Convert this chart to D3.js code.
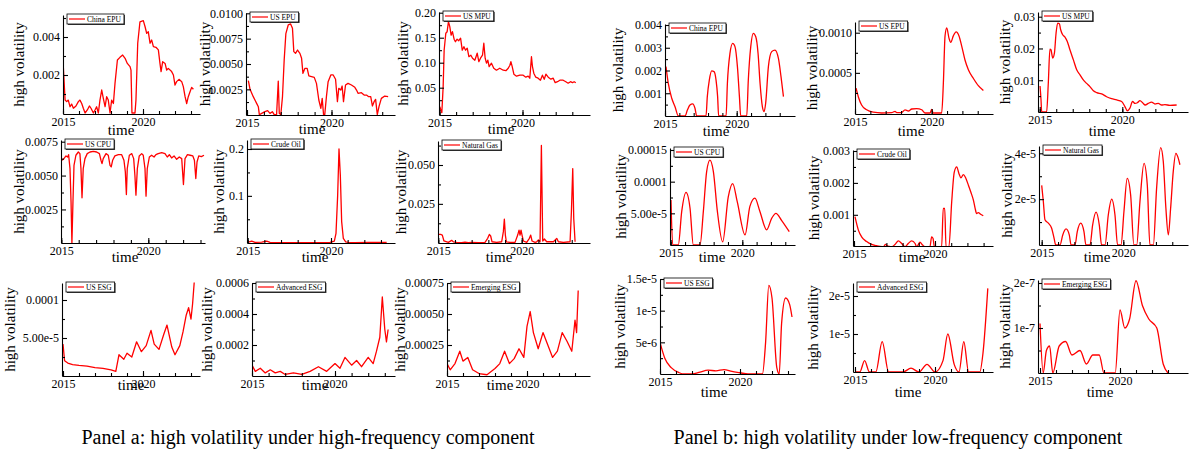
<!DOCTYPE html>
<html lang="en">
<head>
  <meta charset="UTF-8">
  <title>High volatility panels</title>
  <style>
    body { margin: 0; background: #fff; }
    svg text { font-family: "Liberation Serif", "Times New Roman", serif; fill: #000; }
    .tick text { font-size: 12px; }
    .axis path, .axis line { stroke: #000; stroke-width: 1.1px; }
  </style>
</head>
<body>
  <div id="chart"></div>
  <script src="https://d3js.org/d3.v7.min.js"></script>
  <script>
    // ---- data: [year, value] ----
    const chinaEpuHigh = [[2015.02,0.00244],[2015.13,0.00068],[2015.23,0.0006],[2015.33,0.00068],[2015.44,0.00033],[2015.54,0.00047],[2015.65,0.00025],[2015.81,0.00037],[2015.96,0.0006],[2016.06,0.00068],[2016.17,0.0005],[2016.27,0.00025],[2016.38,0],[2016.52,0.00016],[2016.65,0.00037],[2016.75,0.00025],[2016.9,0],[2017.0,0.00016],[2017.1,0.00033],[2017.21,0],[2017.31,0.00068],[2017.42,0.00121],[2017.52,0.00077],[2017.63,0.00033],[2017.73,0.00086],[2017.83,0.00068],[2017.94,0],[2018.04,0.00068],[2018.15,0.0005],[2018.25,0.00156],[2018.4,0.00279],[2018.56,0.00293],[2018.73,0.00305],[2018.88,0.00288],[2019.02,0.00261],[2019.19,0.00244],[2019.25,0.00226],[2019.31,0],[2019.5,0],[2019.56,0.00068],[2019.67,0.00367],[2019.81,0.0048],[2020.02,0.00486],[2020.13,0.00454],[2020.23,0.00419],[2020.33,0.00428],[2020.44,0.00367],[2020.54,0.00384],[2020.65,0.00349],[2020.81,0.00346],[2020.96,0.00332],[2021.06,0.00261],[2021.13,0.00218],[2021.23,0.0027],[2021.38,0.00261],[2021.48,0.00226],[2021.58,0.00235],[2021.79,0.00218],[2021.9,0.002],[2022.0,0.00147],[2022.1,0.00165],[2022.25,0.00177],[2022.42,0.00165],[2022.52,0.00139],[2022.63,0.00086],[2022.73,0.0005],[2022.83,0.00086],[2022.94,0.00112],[2023.04,0.00135],[2023.15,0.00125]];
    const usEpuHigh = [[2015.08,0.00336],[2015.18,0.0025],[2015.37,0.00178],[2015.57,0.00112],[2015.67,0.00079],[2015.73,0],[2015.87,0.00013],[2016.06,0.0003],[2016.22,0.0004],[2016.36,0.00013],[2016.5,0.0003],[2016.61,0],[2016.75,0],[2016.85,0.00332],[2016.91,0.00013],[2017.0,0],[2017.1,0.00178],[2017.2,0.0054],[2017.3,0.008],[2017.44,0.00885],[2017.58,0.00895],[2017.69,0.00852],[2017.77,0.00622],[2017.87,0.00605],[2017.99,0.00638],[2018.13,0.00605],[2018.23,0.00556],[2018.31,0.00408],[2018.43,0.00457],[2018.56,0.00457],[2018.66,0.00382],[2018.82,0.00375],[2018.98,0.00368],[2019.11,0.00309],[2019.25,0.00145],[2019.37,0.00063],[2019.45,0.00161],[2019.53,0],[2019.6,0],[2019.7,0.00178],[2019.8,0.00326],[2019.96,0.00392],[2020.1,0.00392],[2020.24,0.00349],[2020.35,0.00128],[2020.43,0.0026],[2020.55,0.00243],[2020.63,0.00283],[2020.71,0.00128],[2020.83,0.00293],[2020.98,0.00309],[2021.18,0.00293],[2021.38,0.0027],[2021.48,0.00243],[2021.57,0.00211],[2021.77,0.00217],[2021.93,0.00194],[2022.07,0.00194],[2022.2,0.00178],[2022.32,0.00178],[2022.42,0.00086],[2022.52,0.00128],[2022.61,0.00151],[2022.71,0],[2022.81,0.00079],[2022.95,0.00161],[2023.15,0.00184],[2023.35,0.00178]];
    const usMpuHigh = [[2015.02,0.012],[2015.08,0.005],[2015.14,0],[2015.22,0.052],[2015.28,0.125],[2015.38,0.159],[2015.46,0.162],[2015.54,0.182],[2015.62,0.172],[2015.7,0.155],[2015.78,0.162],[2015.88,0.147],[2015.96,0.142],[2016.06,0.147],[2016.16,0.144],[2016.27,0.149],[2016.37,0.125],[2016.47,0.132],[2016.57,0.125],[2016.67,0.129],[2016.77,0.112],[2016.89,0.115],[2016.99,0.109],[2017.13,0.105],[2017.27,0.119],[2017.37,0.102],[2017.47,0.109],[2017.59,0.115],[2017.67,0.139],[2017.75,0.109],[2017.83,0.099],[2017.91,0.105],[2017.99,0.092],[2018.13,0.099],[2018.27,0.089],[2018.43,0.085],[2018.63,0.089],[2018.84,0.085],[2019.0,0.084],[2019.14,0.089],[2019.24,0.095],[2019.3,0.102],[2019.38,0.092],[2019.48,0.077],[2019.64,0.073],[2019.84,0.075],[2020.04,0.075],[2020.2,0.071],[2020.34,0.073],[2020.44,0.069],[2020.54,0.112],[2020.6,0.092],[2020.68,0.079],[2020.8,0.071],[2020.94,0.069],[2021.08,0.065],[2021.2,0.075],[2021.31,0.067],[2021.41,0.077],[2021.55,0.071],[2021.71,0.067],[2021.85,0.069],[2021.97,0.06],[2022.11,0.062],[2022.25,0.065],[2022.45,0.065],[2022.61,0.062],[2022.75,0.059],[2022.89,0.062],[2023.01,0.06],[2023.11,0.062],[2023.21,0.06]];
    const usCpuHigh = [[2015.04,0.00613],[2015.15,0.00625],[2015.27,0.00645],[2015.36,0.00637],[2015.42,0.00654],[2015.5,0.00551],[2015.56,0.00306],[2015.61,0],[2015.67,0.00306],[2015.73,0.00576],[2015.84,0.0065],[2015.98,0.00674],[2016.07,0.00662],[2016.13,0.00551],[2016.19,0.00336],[2016.26,0.00551],[2016.36,0.00625],[2016.49,0.00662],[2016.65,0.00674],[2016.84,0.00679],[2017.03,0.00674],[2017.19,0.00662],[2017.28,0.00613],[2017.34,0.00588],[2017.41,0.00625],[2017.57,0.00662],[2017.7,0.0065],[2017.8,0.00576],[2017.87,0.00564],[2017.95,0.00613],[2018.08,0.00645],[2018.28,0.00654],[2018.47,0.00654],[2018.6,0.00613],[2018.68,0.00527],[2018.74,0.0036],[2018.79,0.00551],[2018.91,0.0065],[2019.05,0.00662],[2019.16,0.00625],[2019.23,0.00502],[2019.29,0.00355],[2019.37,0.00551],[2019.48,0.00645],[2019.62,0.00662],[2019.71,0.0065],[2019.81,0.00551],[2019.87,0.00348],[2019.94,0.00551],[2020.06,0.00637],[2020.19,0.0065],[2020.33,0.00637],[2020.44,0.00654],[2020.57,0.00662],[2020.77,0.00669],[2020.96,0.00662],[2021.09,0.00637],[2021.21,0.00654],[2021.34,0.0063],[2021.48,0.00645],[2021.63,0.0062],[2021.78,0.00637],[2021.92,0.00625],[2022.02,0.00434],[2022.11,0.00625],[2022.25,0.00654],[2022.4,0.0065],[2022.56,0.00645],[2022.65,0.00613],[2022.73,0.00478],[2022.8,0.006],[2022.9,0.00645],[2023.05,0.0064],[2023.2,0.0065]];
    const crudeOilHigh = [[2015.04,0.0014],[2015.24,0.0035],[2015.44,0.0007],[2015.84,0.0014],[2016.14,0.0035],[2016.34,0.0007],[2017.04,0],[2017.84,0],[2019.44,0],[2019.94,0.0007],[2020.2,0.0035],[2020.3,0.02],[2020.4,0.101],[2020.48,0.2],[2020.56,0.144],[2020.64,0.045],[2020.74,0.009],[2020.88,0.002],[2021.04,0.0007],[2021.44,0],[2022.24,0.0007],[2023.34,0.0007]];
    const naturalGasHigh = [[2015.04,0.0053],[2015.14,0.0053],[2015.24,0.0049],[2015.34,0.0011],[2015.6,0.0002],[2015.8,0.0015],[2015.9,0.0006],[2016.1,0.0002],[2016.4,0],[2016.6,0.0004],[2016.8,0],[2017.0,0.0002],[2017.4,0],[2017.8,0.0002],[2017.96,0.0028],[2018.06,0.0053],[2018.14,0.0043],[2018.22,0.0006],[2018.5,0.0002],[2018.8,0.0006],[2018.9,0.0071],[2018.96,0.0152],[2019.02,0.0049],[2019.08,0.0006],[2019.3,0.0002],[2019.6,0.0002],[2019.76,0.0049],[2019.84,0.0081],[2019.9,0.0049],[2019.96,0.0081],[2020.02,0.0049],[2020.1,0.0011],[2020.3,0.0002],[2020.46,0.0028],[2020.54,0.0049],[2020.62,0.0011],[2020.8,0.0002],[2020.9,0.0006],[2021.0,0.0017],[2021.1,0.0006],[2021.18,0.0626],[2021.26,0.0011],[2021.36,0.0024],[2021.5,0.0006],[2021.9,0.0006],[2022.1,0.0028],[2022.2,0.0006],[2022.5,0.0002],[2022.9,0.0006],[2022.98,0.0199],[2023.06,0.0477],[2023.12,0.0156],[2023.2,0.0006]];
    const usEsgHigh = [[2015.0,4.2e-5],[2015.1,2.0e-5],[2015.3,1.7e-5],[2015.6,1.5e-5],[2016,1.4e-5],[2016.5,1.3e-5],[2017,1.1e-5],[2017.5,1.0e-5],[2018,0.8e-5],[2018.3,0.6e-5],[2018.5,2.8e-5],[2018.8,2.2e-5],[2019,3.0e-5],[2019.3,2.5e-5],[2019.6,4.5e-5],[2019.9,3.2e-5],[2020.2,4.0e-5],[2020.5,6.0e-5],[2020.7,4.2e-5],[2021,3.5e-5],[2021.3,5.5e-5],[2021.5,6.7e-5],[2021.8,3.8e-5],[2022,2.8e-5],[2022.3,4.0e-5],[2022.5,5.8e-5],[2022.7,8.0e-5],[2022.85,9.0e-5],[2023,7.5e-5],[2023.1,9.5e-5],[2023.2,1.23e-4]];
    const advancedEsgHigh = [[2015,7e-5],[2015.2,3e-5],[2015.5,5e-5],[2015.8,2e-5],[2016.1,4e-5],[2016.4,2e-5],[2016.7,3e-5],[2017,1e-5],[2017.5,2e-5],[2018,1e-5],[2018.5,3e-5],[2019,6e-5],[2019.5,3e-5],[2020,8e-5],[2020.3,5e-5],[2020.6,1.2e-4],[2021,7e-5],[2021.3,1.0e-4],[2021.6,6e-5],[2022,1.2e-4],[2022.3,8e-5],[2022.5,1.6e-4],[2022.7,2.5e-4],[2022.85,5.1e-4],[2023,3.0e-4],[2023.1,2.2e-4],[2023.2,3.0e-4]];
    const emergingEsgHigh = [[2015,1.0e-4],[2015.2,5e-5],[2015.5,1.0e-4],[2015.8,2.0e-4],[2016,1.2e-4],[2016.3,1.5e-4],[2016.6,5e-5],[2017,2e-5],[2017.5,1e-5],[2018,6e-5],[2018.3,1.0e-4],[2018.6,2.0e-4],[2018.9,1.0e-4],[2019.2,1.4e-4],[2019.5,2.2e-4],[2019.8,1.5e-4],[2020,4.0e-4],[2020.2,5.2e-4],[2020.4,3.5e-4],[2020.7,2.2e-4],[2021,3.5e-4],[2021.3,2.5e-4],[2021.6,1.5e-4],[2021.9,2.0e-4],[2022.2,3.5e-4],[2022.5,2.8e-4],[2022.8,2.0e-4],[2023,4.5e-4],[2023.1,3.5e-4],[2023.2,6.9e-4]];

    const chinaEpuLow = [[2015.07,0.00217],[2015.23,0.00143],[2015.47,0.00078],[2015.7,0.00041],[2015.93,0],[2016.4,0],[2016.56,0.00026],[2016.74,0.00048],[2016.93,0.00053],[2017.09,0.00034],[2017.21,0],[2017.86,0],[2017.95,0.00085],[2018.09,0.00158],[2018.26,0.00198],[2018.42,0.00195],[2018.56,0.00158],[2018.67,0.00085],[2018.74,0],[2019.26,0],[2019.35,0.00143],[2019.53,0.00275],[2019.72,0.00319],[2019.88,0.00305],[2020.05,0.00217],[2020.19,0.00085],[2020.28,0],[2020.7,0],[2020.81,0.00158],[2020.98,0.00305],[2021.16,0.00363],[2021.33,0.00348],[2021.49,0.00275],[2021.63,0.00143],[2021.79,0.00041],[2021.91,0.00019],[2022.02,0.00056],[2022.21,0.00217],[2022.44,0.00283],[2022.67,0.0029],[2022.91,0.00253],[2023.09,0.00173],[2023.26,0.00085]];
    const usEpuLow = [[2015.07,0.00031],[2015.22,0.0002],[2015.43,0.0001],[2015.76,0.00004],[2016.2,0.00001],[2016.74,0],[2017.39,0.000005],[2017.61,0.00002],[2017.72,0.000005],[2018.04,0.000005],[2018.26,0.00004],[2018.48,0.000025],[2018.7,0.00005],[2019.02,0.000055],[2019.35,0.00004],[2019.57,0],[2019.89,0],[2020.0,0.000045],[2020.09,0],[2020.65,0],[2020.76,0.00037],[2020.87,0.00096],[2020.98,0.00106],[2021.13,0.00093],[2021.24,0.00088],[2021.41,0.00096],[2021.59,0.00101],[2021.78,0.00096],[2021.96,0.00083],[2022.17,0.00066],[2022.39,0.00054],[2022.72,0.00043],[2023.04,0.00034],[2023.37,0.00028]];
    const usMpuLow = [[2015.02,0.0082],[2015.08,0.0038],[2015.12,0],[2015.42,0],[2015.52,0.009],[2015.62,0.0198],[2015.68,0.0196],[2015.79,0.017],[2015.89,0.0185],[2015.99,0.0248],[2016.09,0.028],[2016.19,0.0278],[2016.27,0.0259],[2016.39,0.0243],[2016.53,0.0236],[2016.67,0.0222],[2016.83,0.0196],[2017.04,0.0164],[2017.24,0.0133],[2017.44,0.0117],[2017.64,0.0101],[2017.84,0.009],[2018.04,0.008],[2018.25,0.0067],[2018.45,0.0061],[2018.75,0.0057],[2019.05,0.0048],[2019.35,0.0042],[2019.66,0.0038],[2019.96,0.0033],[2020.16,0.0017],[2020.3,0.0004],[2020.46,0.0012],[2020.62,0.0033],[2020.77,0.0027],[2020.91,0.0029],[2021.07,0.0036],[2021.23,0.0029],[2021.39,0.0022],[2021.57,0.0027],[2021.77,0.0031],[2021.98,0.0025],[2022.18,0.0027],[2022.38,0.0022],[2022.58,0.0023],[2022.88,0.0021],[2023.29,0.0022]];
    const usCpuLow = [[2015.02,7.1e-5],[2015.14,0],[2015.53,0],[2015.77,5.3e-5],[2016.07,8.3e-5],[2016.35,5.8e-5],[2016.58,0],[2017.05,0],[2017.28,5.3e-5],[2017.51,1.16e-4],[2017.74,1.34e-4],[2017.98,1.16e-4],[2018.26,5.3e-5],[2018.63,5e-6],[2019.02,7.6e-5],[2019.33,9.7e-5],[2019.65,6.8e-5],[2020.19,1.6e-5],[2020.53,6.1e-5],[2020.88,7.4e-5],[2021.23,5.3e-5],[2021.7,2.4e-5],[2022.05,4.2e-5],[2022.35,5e-5],[2022.74,3.9e-5],[2023.28,2.1e-5]];
    const crudeOilLow = [[2015.06,0.00094],[2015.27,0.00052],[2015.47,0.00031],[2015.78,0.00016],[2016.09,0.00007],[2016.4,0.00003],[2016.81,0],[2016.95,0.00007],[2017.08,0.00002],[2017.33,0],[2017.53,0.00007],[2017.74,0.00018],[2017.94,0.0001],[2018.15,0],[2018.35,0.0001],[2018.56,0.00018],[2018.77,0.0001],[2018.87,0],[2019.07,0.00014],[2019.24,0.00005],[2019.38,0],[2019.69,0],[2019.79,0.00031],[2019.88,0.00026],[2019.96,0],[2020.41,0],[2020.51,0.0012],[2020.6,0.0012],[2020.68,0],[2020.86,0],[2021.03,0.0014],[2021.19,0.00234],[2021.34,0.0025],[2021.48,0.00229],[2021.6,0.00216],[2021.75,0.00226],[2021.89,0.00216],[2022.06,0.00193],[2022.22,0.0017],[2022.37,0.00146],[2022.47,0.00122],[2022.57,0.00104],[2022.67,0.00107],[2022.84,0.00101],[2022.98,0.00097]];
    const naturalGasLow = [[2015.0,2.6e-5],[2015.1,1.9e-5],[2015.2,1.1e-5],[2015.41,9.5e-6],[2015.61,7.3e-6],[2015.76,2.9e-6],[2015.86,0],[2016.12,0],[2016.29,4.4e-6],[2016.49,7e-6],[2016.69,4.4e-6],[2016.8,0],[2017.04,0],[2017.18,5.8e-6],[2017.39,9.5e-6],[2017.59,5.8e-6],[2017.71,0],[2017.96,0],[2018.12,8.7e-6],[2018.33,1.43e-5],[2018.53,8.7e-6],[2018.67,0],[2018.88,0],[2019.08,1.31e-5],[2019.29,2.0e-5],[2019.49,1.31e-5],[2019.65,0],[2019.86,0],[2020.04,1.46e-5],[2020.24,2.91e-5],[2020.45,2.18e-5],[2020.65,0],[2020.82,0],[2021.02,1.89e-5],[2021.27,3.56e-5],[2021.47,2.62e-5],[2021.63,0],[2021.84,0],[2022.04,2.47e-5],[2022.29,4.25e-5],[2022.45,3.64e-5],[2022.61,1.6e-5],[2022.76,4.4e-6],[2022.9,1.6e-5],[2023.06,3.2e-5],[2023.22,4e-5],[2023.37,3.78e-5],[2023.47,3.5e-5]];
    const usEsgLow = [[2015,5e-6],[2015.3,2.5e-6],[2015.7,1e-6],[2016.2,2e-7],[2016.5,0],[2017,0],[2017.5,3e-7],[2018,6e-7],[2018.5,5e-7],[2019,7e-7],[2019.5,4e-7],[2020,2e-7],[2020.5,0],[2021.4,0],[2021.6,5e-6],[2021.8,1.4e-5],[2022,1.2e-5],[2022.3,1e-6],[2022.45,0],[2022.6,8e-6],[2022.85,1.2e-5],[2023.1,1.1e-5],[2023.25,9e-6]];
    const advancedEsgLow = [[2015,0],[2015.3,0],[2015.6,3e-6],[2015.9,0],[2016.3,0],[2016.7,8e-6],[2017.1,0],[2018,0],[2018.5,1e-6],[2019,0],[2019.5,2e-6],[2020,0],[2020.5,3e-6],[2020.8,1e-5],[2021.2,2e-6],[2021.5,0],[2021.8,8e-6],[2022.1,0],[2022.8,0],[2023,5e-6],[2023.3,2.2e-5]];
    const emergingEsgLow = [[2015,1.1e-7],[2015.2,0],[2015.4,5e-8],[2015.6,6e-8],[2015.8,0],[2016.2,6e-8],[2016.6,7e-8],[2017,4e-8],[2017.5,5e-8],[2017.9,2e-8],[2018.3,4e-8],[2018.7,4e-8],[2019,0],[2019.7,0],[2020,1.4e-7],[2020.3,1e-7],[2020.6,1.2e-7],[2021,2.05e-7],[2021.4,1.5e-7],[2021.8,1.2e-7],[2022.3,1e-7],[2022.7,2e-8],[2023,0]];

    // tick values and their printed labels
    const xMajor = [2015, 2020];
    const xMinor = d3.range(2015, 2024);
    const seriesNames = ["China EPU", "US EPU", "US MPU", "US CPU", "Crude Oil", "Natural Gas", "US ESG", "Advanced ESG", "Emerging ESG"];
    const captions = ["Panel a: high volatility under high-frequency component", "Panel b: high volatility under low-frequency component"];

    // per plot: series, y tick values, y tick labels
    const plots = [
      { s: chinaEpuHigh, yt: [0.002, 0.004], yl: ["0.002", "0.004"] },
      { s: usEpuHigh, yt: [0.0025, 0.005, 0.0075, 0.01], yl: ["0.0025", "0.0050", "0.0075", "0.0100"] },
      { s: usMpuHigh, yt: [0.05, 0.1, 0.15, 0.2], yl: ["0.05", "0.10", "0.15", "0.20"] },
      { s: usCpuHigh, yt: [0.0025, 0.005, 0.0075], yl: ["0.0025", "0.0050", "0.0075"] },
      { s: crudeOilHigh, yt: [0.1, 0.2], yl: ["0.1", "0.2"] },
      { s: naturalGasHigh, yt: [0.025, 0.05], yl: ["0.025", "0.050"] },
      { s: usEsgHigh, yt: [5e-5, 1e-4], yl: ["5.00e-5", "0.0001"] },
      { s: advancedEsgHigh, yt: [2e-4, 4e-4, 6e-4], yl: ["0.0002", "0.0004", "0.0006"] },
      { s: emergingEsgHigh, yt: [2.5e-4, 5e-4, 7.5e-4], yl: ["0.00025", "0.00050", "0.00075"] },
      { s: chinaEpuLow, yt: [0.001, 0.002, 0.003, 0.004], yl: ["0.001", "0.002", "0.003", "0.004"] },
      { s: usEpuLow, yt: [0.0005, 0.001], yl: ["0.0005", "0.0010"] },
      { s: usMpuLow, yt: [0.01, 0.02, 0.03], yl: ["0.01", "0.02", "0.03"] },
      { s: usCpuLow, yt: [5e-5, 1e-4, 1.5e-4], yl: ["5.00e-5", "0.0001", "0.00015"] },
      { s: crudeOilLow, yt: [0.001, 0.002, 0.003], yl: ["0.001", "0.002", "0.003"] },
      { s: naturalGasLow, yt: [2e-5, 4e-5], yl: ["2e-5", "4e-5"] },
      { s: usEsgLow, yt: [5e-6, 1e-5, 1.5e-5], yl: ["5e-6", "1e-5", "1.5e-5"] },
      { s: advancedEsgLow, yt: [1e-5, 2e-5], yl: ["1e-5", "2e-5"] },
      { s: emergingEsgLow, yt: [1e-7, 2e-7], yl: ["1e-7", "2e-7"] }
    ];

    // geometry per plot (pixels): axis left/right/top/bottom, x of 2015 and 2020,
    // y of value 0 and of the last y tick, y-label centre x, "time" x and baseline
    const layout = [
      [63, 200, 15, 114, 63, 143, 113, 37, 19, 121, 135],
      [246, 395, 13, 115, 247, 331.5, 114.7, 13.3, 205, 312, 134],
      [439, 590, 12, 115, 439.5, 522.5, 112.7, 12.7, 403, 501, 134],
      [61, 205, 140, 243, 61.3, 148.3, 243.3, 141.7, 19, 125, 262],
      [247, 395, 140, 243, 247.7, 331, 242.7, 149, 219, 315, 262],
      [438, 590, 141, 243, 438.3, 521.7, 242.7, 165, 401, 499, 262],
      [62, 200, 283, 376, 63, 143, 376, 300, 10, 131, 390],
      [252, 395, 283, 376, 252, 335, 376, 283, 207, 315, 390],
      [447, 590, 283, 376, 447, 527, 376, 283, 400, 500, 390],
      [665, 795, 24, 116, 665, 736.7, 116, 25, 618, 716, 136],
      [855, 993, 22, 114, 855, 931.7, 113, 32.7, 812, 911, 136],
      [1038, 1188, 12, 112, 1039.7, 1122.3, 112, 16.7, 1005, 1102, 136],
      [670, 795, 148, 245, 670.7, 742.3, 245, 150, 621, 712, 262],
      [853, 993, 150, 246, 854, 935, 246.7, 151, 814, 912, 262],
      [1039, 1188, 146, 245, 1041.7, 1123.3, 245, 153.3, 1007, 1097, 262],
      [660, 795, 279, 374, 660, 740, 374, 279, 620, 714, 397],
      [853, 993, 283, 372, 855, 935, 372, 296, 813, 908, 397],
      [1038, 1188, 280, 373, 1040, 1120, 373, 283, 1005, 1100, 397]
    ];

    const width = 1192, height = 451;
    const svg = d3.select("#chart").append("svg")
      .attr("width", width).attr("height", height);

    plots.forEach((p, i) => {
      const [ax, ar, at, ab, x15, x20, y0, yRef, labX, timeX, timeY] = layout[i];
      const panelB = i >= 9;
      const name = seriesNames[i % 9];
      const refVal = p.yt[p.yt.length - 1];

      // build scales from known tick positions, then stretch to the axis ends
      const xs = d3.scaleLinear().domain([2015, 2020]).range([x15, x20]);
      const x = d3.scaleLinear().domain([xs.invert(ax), xs.invert(ar)]).range([ax, ar]);
      const ys = d3.scaleLinear().domain([0, refVal]).range([y0, yRef]);
      const y = d3.scaleLinear().domain([ys.invert(ab), ys.invert(at)]).range([ab, at]);

      const g = svg.append("g");
      const clipId = "clip" + i;
      g.append("clipPath").attr("id", clipId).append("rect")
        .attr("x", ax).attr("y", at - 2).attr("width", ar - ax).attr("height", ab - at + 2);

      const line = d3.line()
        .x(d => x(d[0])).y(d => y(d[1]))
        .curve(panelB ? d3.curveMonotoneX : d3.curveLinear);

      g.append("path")
        .datum(p.s)
        .attr("clip-path", `url(#${clipId})`)
        .attr("fill", "none")
        .attr("stroke", "#ff0000")
        .attr("stroke-width", 1.3)
        .attr("stroke-linejoin", "round")
        .attr("d", line);

      // minor ticks (half steps on y, every year on x)
      const step = p.yt[0];
      const yMinor = d3.range(step / 2, y.domain()[1], step);
      g.append("g").attr("class", "axis").attr("transform", `translate(${ax},0)`)
        .call(d3.axisLeft(y).tickValues(yMinor).tickSize(-3).tickFormat(""))
        .call(a => a.select(".domain").remove());
      g.append("g").attr("class", "axis").attr("transform", `translate(0,${ab})`)
        .call(d3.axisBottom(x).tickValues(xMinor.filter(v => x(v) <= ar)).tickSize(-3).tickFormat(""))
        .call(a => a.select(".domain").remove());

      g.append("g").attr("class", "axis").attr("transform", `translate(${ax},0)`)
        .call(d3.axisLeft(y).tickValues(p.yt).tickFormat((d, k) => p.yl[k]).tickSizeInner(-5).tickSizeOuter(0).tickPadding(3));
      g.append("g").attr("class", "axis").attr("transform", `translate(0,${ab})`)
        .call(d3.axisBottom(x).tickValues(xMajor).tickFormat(d3.format("d")).tickSizeInner(-5).tickSizeOuter(0).tickPadding(3));

      g.append("text")
        .attr("transform", `translate(${labX + 5},${(at + ab) / 2}) rotate(-90)`)
        .attr("text-anchor", "middle")
        .attr("font-size", 15)
        .text("high volatility");

      g.append("text")
        .attr("x", timeX).attr("y", timeY)
        .attr("text-anchor", "middle")
        .attr("font-size", 15)
        .text("time");

      // legend box
      const lg = g.append("g").attr("transform", `translate(${ax + 4},${at - 1})`);
      const shadow = lg.append("rect").attr("x", 1).attr("y", 1).attr("height", 10).attr("fill", "#444");
      const box = lg.append("rect").attr("height", 10).attr("fill", "#fff").attr("stroke", "#000").attr("stroke-width", 0.8);
      lg.append("line").attr("x1", 2).attr("x2", 18).attr("y1", 5).attr("y2", 5)
        .attr("stroke", "#ff0000").attr("stroke-width", 1.2);
      const t = lg.append("text").attr("x", 20).attr("y", 7.8).attr("font-size", 7.5).text(name);
      const w = t.node().getComputedTextLength() + 23;
      box.attr("width", w);
      shadow.attr("width", w);
    });

    svg.selectAll(".caption")
      .data(captions)
      .join("text")
      .attr("class", "caption")
      .attr("x", (d, i) => i === 0 ? 308 : 898)
      .attr("y", 444)
      .attr("text-anchor", "middle")
      .attr("font-size", 20)
      .text(d => d);
  </script>
</body>
</html>
